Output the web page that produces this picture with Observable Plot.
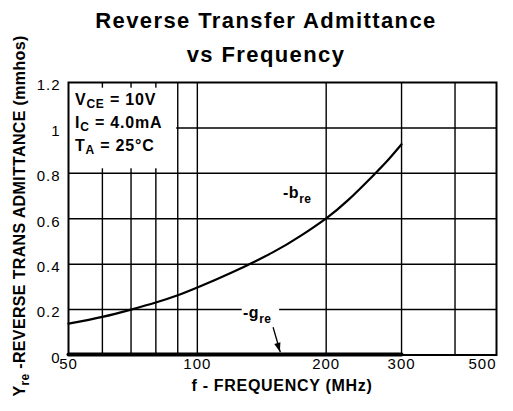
<!DOCTYPE html>
<html><head><meta charset="utf-8">
<script src="https://cdn.jsdelivr.net/npm/d3@7"></script>
<script src="https://cdn.jsdelivr.net/npm/@observablehq/plot@0.6"></script>
<style>
body{margin:0;background:#fff}
svg{display:block}
g[aria-label="x-axis tick label"] text, g[aria-label="y-axis tick label"] text{letter-spacing:1px}
</style>
</head><body><div id="chart"></div>
<script>
// ---- data ----
const freq = [50, 60, 70, 80, 90, 100, 120, 150, 175, 200, 225, 258, 280, 300];
const bre  = [0.138, 0.168, 0.200, 0.231, 0.263, 0.297, 0.362, 0.452, 0.527, 0.602, 0.682, 0.792, 0.862, 0.928];
const greFreq = [50, 100, 200, 300];
const gre     = [0.002, 0.002, 0.002, 0.002];
const xGrid = [60, 70, 80, 90, 100, 200, 300, 400];
const yGrid = [0.2, 0.4, 0.6, 0.8, 1.0];
const xTicks = [50, 100, 200, 300];
const xTickLast = [500];
const yTicks = [0, 0.2, 0.4, 0.6, 0.8, 1, 1.2];
const yTickLabels = ["0", "0.2", "0.4", "0.6", "0.8", "1", "1.2"];
const conditions = [["V", "CE", " = 10V"], ["I", "C", " = 4.0mA"], ["T", "A", " = 25\u00B0C"]];
const titleLines = ["Reverse Transfer Admittance", "vs Frequency"];
const xLabel = "f - FREQUENCY (MHz)";
const yLabel = ["Y", "re", " -REVERSE TRANS ADMITTANCE (mmhos)"];
const breLabel = ["-b", "re"];
const greLabel = ["-g", "re"];

// annotation anchors in data coordinates
const condPos = {f: 51.9, v: [1.099, 0.996, 0.894]};
const breLabelPos = {f: 159, v: 0.689};
const greLabelPos = {f: 128.2, v: 0.161};
const greGap = {f1: 127.3, f2: 155.7, v1: 0.17, v2: 0.23};
const condBox = {f1: 50, f2: 89.5, v1: 0.82, v2: 1.175};
const arrowPos = {f1: 150.3, v1: 0.122, f2: 156.3, v2: 0.012};

const font = "'Liberation Sans', Arial, Helvetica, sans-serif";
const bre_data = freq.map((f, i) => ({f, v: bre[i]}));
const gre_data = greFreq.map((f, i) => ({f, v: gre[i]}));

const plot = Plot.plot({
  width: 513, height: 411,
  marginLeft: 68, marginRight: 17, marginTop: 82, marginBottom: 56.5,
  x: {type: "log", domain: [50, 500], label: null},
  y: {domain: [0, 1.2], label: null},
  style: {fontFamily: font, fontSize: "15px", color: "#000", background: "#fff"},
  marks: [
    Plot.ruleX(xGrid, {stroke: "#000", strokeWidth: 1.4}),
    Plot.ruleY(yGrid, {stroke: "#000", strokeWidth: 1.5}),
    Plot.rect([condBox], {x1: "f1", x2: "f2", y1: "v1", y2: "v2", fill: "#fff", inset: 0}),
    Plot.rect([greGap], {x1: "f1", x2: "f2", y1: "v1", y2: "v2", fill: "#fff", inset: 0}),
    Plot.frame({stroke: "#000", strokeWidth: 2}),
    Plot.line(bre_data, {x: "f", y: "v", curve: "natural", stroke: "#000", strokeWidth: 2.2}),
    Plot.line(gre_data, {x: "f", y: "v", stroke: "#000", strokeWidth: 4}),
    Plot.link([arrowPos], {x1: "f1", y1: "v1", x2: "f2", y2: "v2", stroke: "#000", strokeWidth: 1.3}),
    Plot.axisX(xTicks, {tickSize: 0, tickPadding: 3, tickFormat: d => String(d), fontSize: 15, label: null}),
    Plot.axisX(xTickLast, {tickSize: 0, tickPadding: 3, tickFormat: d => String(d), fontSize: 15, textAnchor: "end", label: null}),
    Plot.axisY(yTicks, {tickSize: 0, tickPadding: 8, tickFormat: d => yTickLabels[yTicks.indexOf(d)], fontSize: 15, dy: 3, label: null})
  ]
});
document.getElementById("chart").appendChild(plot);

const svg = d3.select(plot);
const sx = plot.scale("x"), sy = plot.scale("y");
const X = v => sx.apply(v), Y = v => sy.apply(v);

// arrowhead (filled)
{
  const x1 = X(arrowPos.f1), y1 = Y(arrowPos.v1), x2 = X(arrowPos.f2), y2 = Y(arrowPos.v2);
  const a = Math.atan2(y2 - y1, x2 - x1), L = 9, W = 3.2;
  const bx = x2 - L * Math.cos(a), by = y2 - L * Math.sin(a);
  const px = -Math.sin(a) * W, py = Math.cos(a) * W;
  svg.append("path")
    .attr("d", `M${x2},${y2}L${bx + px},${by + py}L${bx - px},${by - py}Z`)
    .attr("fill", "#000");
}

// titles
titleLines.forEach((t, i) => {
  svg.append("text").attr("x", 266).attr("y", i === 0 ? 28 : 62)
    .attr("text-anchor", "middle").attr("font-family", font).attr("font-weight", "bold")
    .attr("font-size", 22).attr("letter-spacing", "1.4px").attr("fill", "#000").text(t);
});

// x axis label
svg.append("text").attr("x", 282).attr("y", 391).attr("text-anchor", "middle")
  .attr("font-family", font).attr("font-weight", "bold").attr("font-size", 16)
  .attr("letter-spacing", "0.7px").attr("fill", "#000").text(xLabel);

// y axis label (rotated, with subscript)
{
  const t = svg.append("text").attr("transform", "translate(25,216) rotate(-90)")
    .attr("text-anchor", "middle").attr("font-family", font).attr("font-weight", "bold")
    .attr("font-size", 16).attr("letter-spacing", "0.35px").attr("fill", "#000");
  t.append("tspan").text(yLabel[0]);
  t.append("tspan").attr("font-size", 12).attr("dy", 4).text(yLabel[1]);
  t.append("tspan").attr("dy", -4).text(yLabel[2]);
}

// conditions block
conditions.forEach((c, i) => {
  const t = svg.append("text").attr("x", X(condPos.f)).attr("y", Y(condPos.v[i]))
    .attr("text-anchor", "start")
    .attr("font-family", font).attr("font-weight", "bold").attr("font-size", 16)
    .attr("letter-spacing", "0.8px").attr("fill", "#000");
  t.append("tspan").text(c[0]);
  t.append("tspan").attr("font-size", 12).attr("dy", 3).text(c[1]);
  t.append("tspan").attr("dy", -3).text(c[2]);
});

// curve labels
[[breLabel, breLabelPos], [greLabel, greLabelPos]].forEach(([lab, pos]) => {
  const t = svg.append("text").attr("x", X(pos.f)).attr("y", Y(pos.v))
    .attr("text-anchor", "start")
    .attr("font-family", font).attr("font-weight", "bold").attr("font-size", 16)
    .attr("letter-spacing", "0.5px").attr("fill", "#000");
  t.append("tspan").text(lab[0]);
  t.append("tspan").attr("font-size", 12).attr("dy", 5).text(lab[1]);
});
</script>
</body></html>
